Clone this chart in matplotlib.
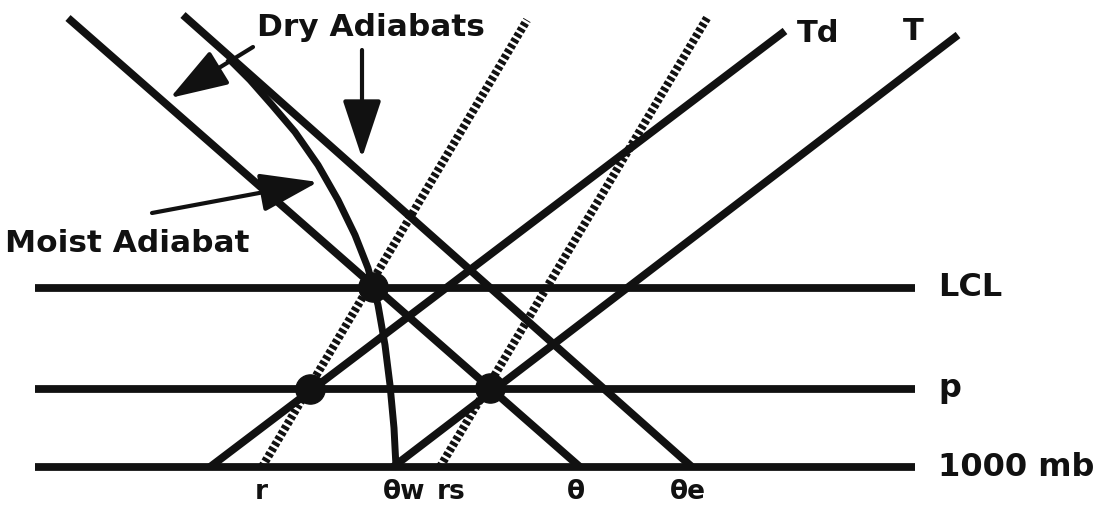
import matplotlib.pyplot as plt

plt.rcParams['font.family'] = ['DejaVu Sans']

# ---- data (diagram units, y grows downward) ----
levelNames = ['LCL', 'p', '1000 mb']
levelY = [288, 389, 467]
levelX = [35, 915]

# straight lines: [x_start, x_end], [y_start, y_end]
dry1X, dry1Y = [68, 580], [18, 467]       # theta
dry2X, dry2Y = [183, 692], [15, 467]      # theta-e
tdX, tdY = [210, 785], [467, 31]
tX, tY = [393, 958], [467, 35]
rX, rY = [262, 527], [467, 20]
rsX, rsY = [440, 707], [467, 18]

# moist adiabat
moistX = [228, 250, 272, 295, 318, 338, 355, 368, 378, 385, 390, 394, 396]
moistY = [58, 80, 105, 132, 165, 200, 235, 268, 305, 345, 385, 428, 467]

# big dots
dotX = [373, 310, 490]
dotY = [287, 389, 388]

bottomLabels = ['r', 'θw', 'rs', 'θ', 'θe']
bottomX = [261, 404, 451, 576, 688]

ink = '#111111'

fig = plt.figure(figsize=(11.1, 5.2), dpi=100)
ax = fig.add_axes([0, 0, 1, 1])
ax.set_xlim(0, 1110)
ax.set_ylim(520, 0)
ax.axis('off')

#--- horizontal pressure levels
for name, y in zip(levelNames, levelY):
    ax.plot(levelX, [y, y], color=ink, lw=5.6, solid_capstyle='butt')
    ax.text(levelX[1] + 23, y, name, fontsize=23, fontweight='bold',
            va='center', ha='left', color=ink)

#--- adiabats and profiles
for xs, ys in [(dry1X, dry1Y), (dry2X, dry2Y), (tdX, tdY), (tX, tY)]:
    ax.plot(xs, ys, color=ink, lw=5.6, solid_capstyle='butt')

ax.plot(moistX, moistY, color=ink, lw=5, solid_capstyle='butt')

#--- mixing ratio lines (beaded)
for xs, ys in [(rX, rY), (rsX, rsY)]:
    ax.plot(xs, ys, color=ink, lw=6, linestyle=(0, (0.45, 0.3)),
            dash_capstyle='butt')

ax.plot(dotX, dotY, 'o', color=ink, ms=21, linestyle='none')

#--- labels
ax.text(797, 33, 'Td', fontsize=22, fontweight='bold', va='center', ha='left', color=ink)
ax.text(903, 31, 'T', fontsize=22, fontweight='bold', va='center', ha='left', color=ink)
for lab, x in zip(bottomLabels, bottomX):
    ax.text(x, 492, lab, fontsize=19, fontweight='bold', ha='center', va='center', color=ink)

ax.text(257, 27, 'Dry Adiabats', fontsize=22.5, fontweight='bold', ha='left', va='center', color=ink)
ax.text(5, 244, 'Moist Adiabat', fontsize=22.5, fontweight='bold', ha='left', va='center', color=ink)

arrowStyle = dict(arrowstyle='-|>,head_length=1.8,head_width=0.6',
                  lw=3, color=ink, mutation_scale=20, shrinkA=0, shrinkB=0)
ax.annotate('', xy=(170, 98), xytext=(253, 47), arrowprops=arrowStyle)
ax.annotate('', xy=(362, 158), xytext=(362, 50), arrowprops=arrowStyle)
ax.annotate('', xy=(318, 182), xytext=(152, 213), arrowprops=arrowStyle)

fig.savefig('out.png', dpi=100, facecolor='white')
